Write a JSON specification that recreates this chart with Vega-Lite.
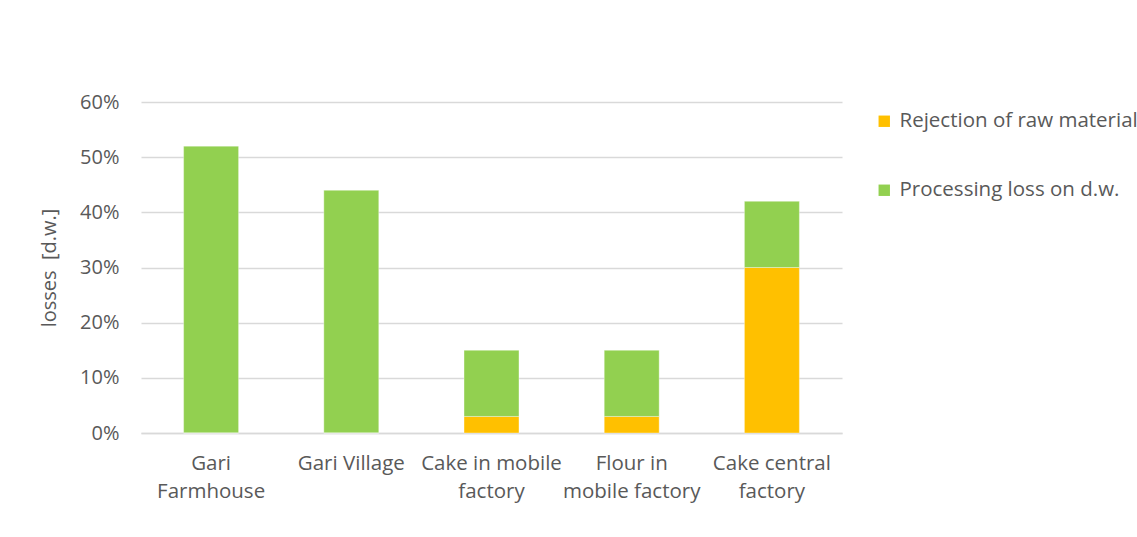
{
  "$schema": "https://vega.github.io/schema/vega-lite/v6.json",
  "width": 701,
  "height": 331,
  "autosize": {"type": "none"},
  "padding": {"left": 141, "top": 102, "right": 295, "bottom": 104},
  "background": "white",
  "config": {
    "font": "Open Sans",
    "view": {"stroke": null},
    "axis": {"labelFont": "Open Sans", "titleFont": "Open Sans", "labelColor": "#595959", "titleColor": "#595959"}
  },
  "data": {
    "values": [
      {"category": "Gari Farmhouse", "series": "Processing loss on d.w.", "value": 0.52},
      {"category": "Gari Farmhouse", "series": "Rejection of raw material", "value": 0},
      {"category": "Gari Village", "series": "Processing loss on d.w.", "value": 0.44},
      {"category": "Gari Village", "series": "Rejection of raw material", "value": 0},
      {"category": "Cake in mobile factory", "series": "Rejection of raw material", "value": 0.03},
      {"category": "Cake in mobile factory", "series": "Processing loss on d.w.", "value": 0.12},
      {"category": "Flour in mobile factory", "series": "Rejection of raw material", "value": 0.03},
      {"category": "Flour in mobile factory", "series": "Processing loss on d.w.", "value": 0.12},
      {"category": "Cake central factory", "series": "Rejection of raw material", "value": 0.30},
      {"category": "Cake central factory", "series": "Processing loss on d.w.", "value": 0.12}
    ]
  },
  "mark": {"type": "bar", "stroke": "white", "strokeOpacity": 0.35, "strokeWidth": 1},
  "encoding": {
    "x": {
      "field": "category",
      "type": "nominal",
      "sort": null,
      "scale": {"paddingInner": 0.608, "paddingOuter": 0.304},
      "axis": {
        "title": null,
        "labelAngle": 0,
        "labelFontSize": 20.5,
        "labelPadding": 20,
        "labelLineHeight": 28,
        "labelLimit": 300,
        "ticks": false,
        "domainColor": "#d9d9d9",
        "domainWidth": 1.5,
        "labelExpr": "datum.value == 'Gari Farmhouse' ? ['Gari', 'Farmhouse'] : datum.value == 'Cake in mobile factory' ? ['Cake in mobile', 'factory'] : datum.value == 'Flour in mobile factory' ? ['Flour in', 'mobile factory'] : datum.value == 'Cake central factory' ? ['Cake central', 'factory'] : datum.value"
      }
    },
    "y": {
      "field": "value",
      "type": "quantitative",
      "stack": "zero",
      "scale": {"domain": [0, 0.6], "nice": false},
      "axis": {
        "title": "losses\u00a0\u00a0[d.w.]",
        "titleFontSize": 20,
        "titleFontWeight": "normal",
        "titlePadding": 20,
        "format": ".0%",
        "values": [0, 0.1, 0.2, 0.3, 0.4, 0.5, 0.6],
        "labelOverlap": false,
        "labelFontSize": 20,
        "labelPadding": 22,
        "ticks": false,
        "domain": false,
        "gridColor": "#d9d9d9",
        "gridWidth": 1.5
      }
    },
    "color": {
      "field": "series",
      "type": "nominal",
      "scale": {
        "domain": ["Rejection of raw material", "Processing loss on d.w."],
        "range": ["#FFC000", "#92D050"]
      },
      "legend": {
        "title": null,
        "orient": "none",
        "legendX": 733,
        "legendY": 9,
        "symbolType": "square",
        "symbolSize": 130,
        "symbolStrokeWidth": 0,
        "labelFontSize": 20.5,
        "labelColor": "#595959",
        "labelFont": "Open Sans",
        "rowPadding": 48,
        "labelOffset": 5,
        "labelLimit": 400
      }
    },
    "order": {"field": "series", "sort": "descending"}
  }
}
